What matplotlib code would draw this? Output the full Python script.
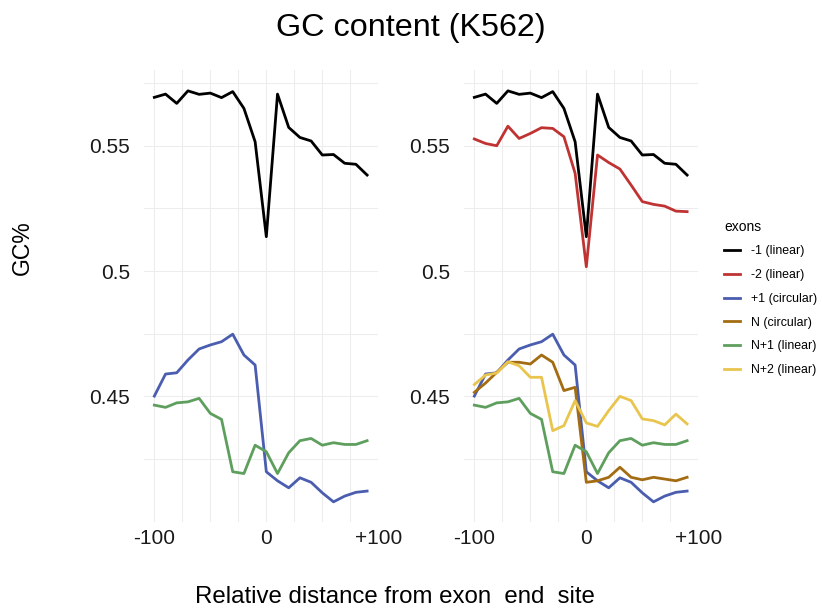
import numpy as np
import matplotlib
matplotlib.use("Agg")
import matplotlib.pyplot as plt
from matplotlib.lines import Line2D

plt.rcParams["font.family"] = ["Liberation Sans", "DejaVu Sans"]

# relative position of each bin (nt from exon end site)
positions = [-100, -90, -80, -70, -60, -50, -40, -30, -20, -10,
             0, 10, 20, 30, 40, 50, 60, 70, 80, 90]

gc_m1_linear = [0.5693, 0.5706, 0.5669, 0.5719, 0.5705, 0.5710, 0.5692, 0.5716, 0.5649, 0.5516,
                0.5137, 0.5706, 0.5573, 0.5533, 0.5519, 0.5463, 0.5465, 0.5430, 0.5426, 0.5383]
gc_m2_linear = [0.5527, 0.5509, 0.5500, 0.5578, 0.5529, 0.5549, 0.5572, 0.5569, 0.5536, 0.5390,
                0.5017, 0.5463, 0.5433, 0.5407, 0.5343, 0.5277, 0.5266, 0.5259, 0.5239, 0.5237]
gc_p1_circular = [0.4501, 0.4589, 0.4594, 0.4645, 0.4689, 0.4705, 0.4718, 0.4748, 0.4665, 0.4625,
                  0.4199, 0.4163, 0.4135, 0.4175, 0.4157, 0.4115, 0.4079, 0.4102, 0.4117, 0.4122]
gc_n_circular = [0.4516, 0.4553, 0.4596, 0.4636, 0.4636, 0.4629, 0.4665, 0.4636, 0.4523, 0.4536,
                 0.4157, 0.4163, 0.4177, 0.4217, 0.4177, 0.4167, 0.4177, 0.4170, 0.4163, 0.4177]
gc_n1_linear = [0.4465, 0.4456, 0.4474, 0.4478, 0.4492, 0.4432, 0.4408, 0.4199, 0.4192, 0.4305,
                0.4279, 0.4192, 0.4275, 0.4323, 0.4332, 0.4305, 0.4315, 0.4308, 0.4308, 0.4323]
gc_n2_linear = [0.4547, 0.4585, 0.4593, 0.4638, 0.4622, 0.4576, 0.4576, 0.4363, 0.4383, 0.4483,
                0.4394, 0.4380, 0.4443, 0.4500, 0.4483, 0.4410, 0.4403, 0.4386, 0.4429, 0.4390]

series_labels = ["-1 (linear)", "-2 (linear)", "+1 (circular)",
                 "N (circular)", "N+1 (linear)", "N+2 (linear)"]
series_colors = ["#000000", "#C03333", "#4A5DAE", "#A36C12", "#5E9F5E", "#E9C54E"]

left_series = [gc_m1_linear, gc_p1_circular, gc_n1_linear]
left_idx = [0, 2, 4]
right_series = [gc_m1_linear, gc_m2_linear, gc_p1_circular, gc_n_circular, gc_n1_linear, gc_n2_linear]
right_idx = [0, 1, 2, 3, 4, 5]

xticks = [-100, 0, 100]
xtick_labels = ["-100", "0", "+100"]
yticks = [0.45, 0.5, 0.55]
ytick_labels = ["0.45", "0.5", "0.55"]

fig = plt.figure(figsize=(8.22, 6.08), dpi=100)
W, H = 822, 608


def _axes(x0, x1, y0, y1):
    return fig.add_axes([x0 / W, 1 - y1 / H, (x1 - x0) / W, (y1 - y0) / H])


def _style(ax):
    ax.set_xlim(-109.5, 100.0)
    ax.set_ylim(0.3997, 0.5801)
    for s in ax.spines.values():
        s.set_visible(False)
    for v in np.arange(-100, 101, 25):
        ax.axvline(v, color="#EDEDED", lw=0.8, zorder=0)
    for v in np.arange(0.425, 0.58, 0.025):
        ax.axhline(v, color="#EDEDED", lw=0.8, zorder=0)
    ax.set_xticks(xticks)
    ax.set_xticklabels(xtick_labels)
    ax.set_yticks(yticks)
    ax.set_yticklabels(ytick_labels)
    ax.tick_params(length=0, labelsize=15, colors="#1A1A1A")
    ax.tick_params(axis="y", pad=10)
    ax.tick_params(axis="x", pad=5)
    ax.set_facecolor("white")


ax1 = _axes(143.7, 378.3, 70.3, 522.4)
ax2 = _axes(463.7, 698.3, 70.3, 522.4)

for ax, data, idx in [(ax1, left_series, left_idx), (ax2, right_series, right_idx)]:
    _style(ax)
    for y, i in zip(data, idx):
        ax.plot(positions, y, color=series_colors[i], lw=2.0, zorder=3)

fig.text(0.5, 1 - 28 / H, "GC content (K562)", ha="center", va="center", fontsize=23.3)
fig.text(395 / W, 1 - 597 / H, "Relative distance from exon  end  site",
         ha="center", va="center", fontsize=17.3)
fig.text(22 / W, 1 - 248 / H, "GC%", ha="center", va="center", rotation=90, fontsize=16.5)

handles = [Line2D([], [], color=c, lw=2.0) for c in series_colors]
leg = fig.legend(handles, series_labels, title="exons", loc="upper left",
                 bbox_to_anchor=(713 / W, 1 - 208.5 / H), frameon=False,
                 fontsize=8.9, title_fontsize=10, handlelength=1.3,
                 handletextpad=0.85, labelspacing=0.95, alignment="left")

fig.savefig("out.png", dpi=100, facecolor="white")
